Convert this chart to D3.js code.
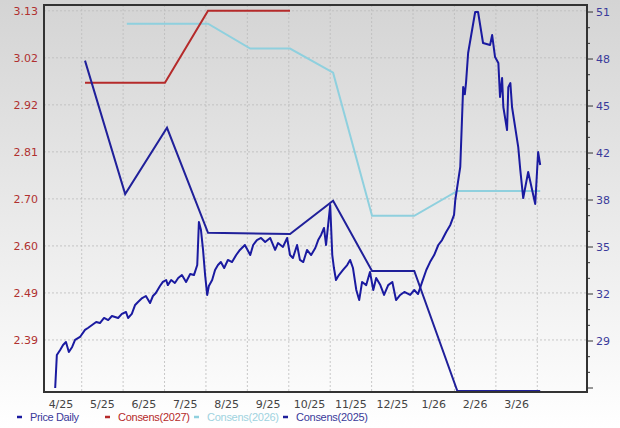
<!DOCTYPE html>
<html><head><meta charset="utf-8">
<script src="https://cdn.jsdelivr.net/npm/d3@7"></script>
<style>body{margin:0;background:#fff}svg{display:block;font-family:"DejaVu Sans",sans-serif}</style>
</head><body><svg id="c" width="620" height="428"></svg>
<script>
// x values: months since Apr 2025
const monthLabels = ["4/25","5/25","6/25","7/25","8/25","9/25","10/25","11/25","12/25","1/26","2/26","3/26"];
const leftTicks = ["3.13","3.02","2.92","2.81","2.70","2.60","2.49","2.39"];
const rightTicks = ["51","48","45","42","38","35","32","29"];

const cons2027X = [0.58, 2.51, 3.55, 5.53];
const cons2027Y = [2.968, 2.968, 3.13, 3.13];
const cons2026X = [1.59, 3.55, 4.57, 5.53, 6.57, 7.51, 8.53, 9.57, 11.57];
const cons2026Y = [3.101, 3.101, 3.045, 3.045, 2.991, 2.669, 2.669, 2.725, 2.725];
const cons2025X = [0.58, 1.55, 2.56, 3.55, 5.53, 6.57, 7.51, 8.53, 9.57, 11.57];
const cons2025Y = [3.018, 2.718, 2.867, 2.631, 2.628, 2.703, 2.545, 2.545, 2.275, 2.275];

const priceX = [-0.14,-0.10,-0.02,0.05,0.12,0.19,0.27,0.34,0.46,0.58,0.65,0.75,0.85,0.94,1.04,1.14,1.23,1.38,1.47,1.57,1.62,1.71,1.79,1.86,1.96,2.05,2.15,2.22,2.29,2.39,2.46,2.54,2.58,2.66,2.75,2.83,2.92,3.02,3.12,3.21,3.29,3.33,3.38,3.43,3.48,3.53,3.57,3.65,3.72,3.79,3.86,3.94,4.03,4.13,4.23,4.32,4.44,4.57,4.64,4.73,4.83,4.93,5.05,5.17,5.24,5.36,5.46,5.53,5.60,5.70,5.77,5.85,5.94,6.04,6.14,6.21,6.28,6.35,6.40,6.45,6.50,6.55,6.59,6.64,6.71,6.81,6.91,6.98,7.05,7.13,7.20,7.27,7.37,7.46,7.54,7.61,7.71,7.80,7.90,8.00,8.09,8.19,8.29,8.43,8.53,8.62,8.72,8.82,8.91,9.01,9.11,9.20,9.30,9.40,9.49,9.52,9.64,9.71,9.75,9.78,9.83,10.00,10.07,10.19,10.36,10.41,10.48,10.56,10.60,10.65,10.68,10.77,10.80,10.85,10.89,11.04,11.09,11.16,11.28,11.45,11.52,11.57];
const priceY = [25.86,28.06,28.40,28.73,28.93,28.26,28.60,29.07,29.27,29.74,29.87,30.07,30.27,30.20,30.54,30.40,30.67,30.54,30.81,30.94,30.54,30.81,31.41,31.61,31.87,32.01,31.54,32.01,32.21,32.68,32.95,33.08,32.74,33.08,32.88,33.21,33.41,32.95,33.48,33.41,34.08,36.96,36.42,35.09,33.41,32.08,32.68,33.08,33.75,34.08,34.28,33.88,34.42,34.28,34.75,35.09,35.42,34.75,35.42,35.75,35.89,35.62,35.89,35.09,35.55,35.29,35.89,34.75,34.55,35.42,34.42,34.28,35.09,34.75,35.22,35.75,36.09,36.56,35.42,36.76,38.09,34.75,33.88,33.08,33.41,33.75,34.08,34.42,33.88,32.41,31.74,32.95,32.74,33.62,32.41,33.21,32.74,32.08,32.74,32.95,31.74,32.08,32.28,32.08,32.41,32.14,32.95,33.75,34.28,34.75,35.42,35.75,36.29,36.76,37.43,38.43,40.64,45.98,45.5,46.3,48.26,51.00,51.00,48.93,48.79,49.46,47.99,47.59,45.32,46.59,44.65,43.11,45.98,46.25,44.65,41.97,40.43,38.56,40.30,38.16,41.64,40.77];

const svg = d3.select("#c");
const L = 44, R = 587, T = 5, B = 392;
const defs = svg.append("defs");
const g = defs.append("linearGradient").attr("id","bg").attr("x1",0).attr("y1",0).attr("x2",0).attr("y2",1);
g.append("stop").attr("offset","0").attr("stop-color","#d4d4d4");
g.append("stop").attr("offset","1").attr("stop-color","#ffffff");
svg.append("rect").attr("width",620).attr("height",428).attr("fill","url(#bg)");

const x = d3.scaleLinear().domain([-0.41, 12.7]).range([L, R]);
const yL = d3.scaleLinear().domain([2.273, 3.143]).range([B, T]);
const yR = d3.scaleLinear().domain([25.59, 51.47]).range([B, T]);
const leftVals = leftTicks.map((t,i)=>3.13 - i*0.74/7);
const rightVals = rightTicks.map((t,i)=>51 - i*22/7);

// grid
svg.append("g").selectAll("line").data(leftVals).join("line")
  .attr("x1",L).attr("x2",R).attr("y1",d=>yL(d)).attr("y2",d=>yL(d))
  .attr("stroke","#bbb").attr("stroke-dasharray","2,2").attr("stroke-width",0.8);
svg.append("g").selectAll("line").data(monthLabels.map((d,i)=>i+0.5)).join("line")
  .attr("x1",d=>x(d)).attr("x2",d=>x(d)).attr("y1",T).attr("y2",B)
  .attr("stroke","#bbb").attr("stroke-dasharray","2,2").attr("stroke-width",0.8);

const lineL = (xs,ys)=>d3.line().x((d,i)=>x(xs[i])).y(d=>yL(d))(ys);
const lineR = (xs,ys)=>d3.line().x((d,i)=>x(xs[i])).y(d=>yR(d))(ys);
svg.append("path").attr("d",lineL(cons2026X,cons2026Y)).attr("fill","none").attr("stroke","#8fd0de").attr("stroke-width",2);
svg.append("path").attr("d",lineL(cons2027X,cons2027Y)).attr("fill","none").attr("stroke","#b52a2a").attr("stroke-width",2);
svg.append("path").attr("d",lineL(cons2025X,cons2025Y)).attr("fill","none").attr("stroke","#20209a").attr("stroke-width",2);
svg.append("path").attr("d",lineR(priceX,priceY)).attr("fill","none").attr("stroke","#1a1aa0").attr("stroke-width",2).attr("stroke-linejoin","round");

// frame
svg.append("rect").attr("x",L).attr("y",T).attr("width",R-L).attr("height",B-T).attr("fill","none").attr("stroke","#333").attr("stroke-width",2);

// left axis labels
svg.append("g").selectAll("text").data(leftTicks).join("text")
  .attr("x",L-6).attr("y",(d,i)=>yL(leftVals[i])+4).attr("text-anchor","end")
  .attr("font-size",11).attr("fill","#b03030").text(d=>d);
// right axis ticks
const rAxis = svg.append("g");
d3.range(0,8.01,1/3).forEach(k=>{
  const v = 51 - k*22/7; const y = yR(v); if (y>B) return;
  const major = Math.abs(k-Math.round(k))<1e-6;
  rAxis.append("line").attr("x1",R).attr("x2",R+(major?6:3)).attr("y1",y).attr("y2",y).attr("stroke","#333");
});
rAxis.selectAll("text").data(rightTicks).join("text")
  .attr("x",R+9).attr("y",(d,i)=>yR(rightVals[i])+4).attr("font-size",11).attr("fill","#3a3a9a").text(d=>d);
// x labels
svg.append("g").selectAll("text").data(monthLabels).join("text")
  .attr("x",(d,i)=>x(i)).attr("y",408).attr("text-anchor","middle").attr("font-size",11).attr("fill","#444").text(d=>d);

// legend
const leg = [["Price Daily","#1a1aa0","#3a3a9a",15],["Consens(2027)","#b52a2a","#b52a2a",103],["Consens(2026)","#8fd0de","#9fd3e0",192],["Consens(2025)","#20209a","#3a3a9a",281]];
leg.forEach(([t,c,tc,lx])=>{
  svg.append("line").attr("x1",lx+2).attr("x2",lx+7).attr("y1",417).attr("y2",417).attr("stroke",c).attr("stroke-width",2.5);
  svg.append("text").attr("x",lx+15).attr("y",421).attr("font-size",11).attr("font-family","Liberation Sans, Arial, sans-serif").attr("textLength",t.length>11?72:49).attr("fill",tc).text(t);
});
</script></body></html>
